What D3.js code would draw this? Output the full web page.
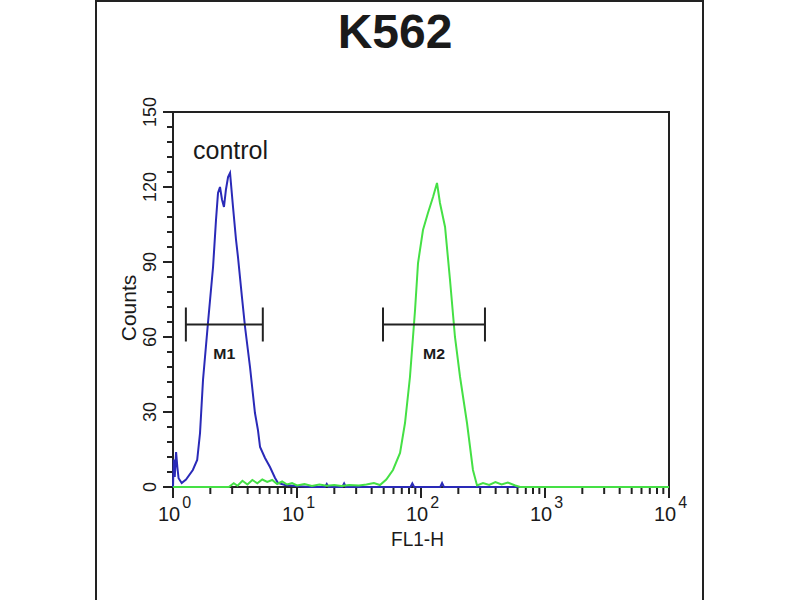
<!DOCTYPE html>
<html>
<head>
<meta charset="utf-8">
<script src="https://cdn.jsdelivr.net/npm/d3@7"></script>
<style>
  body { margin: 0; background: #fff; }
  text { font-family: "Liberation Sans", Arial, sans-serif; fill: #1a1a1a; }
</style>
</head>
<body>
<svg width="800" height="600"></svg>
<script>
  // histogram data: [log10(FL1-H), counts]
  const controlCurve = [
    [0.000, 0], [0.006, 11], [0.014, 4], [0.025, 14], [0.035, 8], [0.045, 3.5], [0.070, 1.6],
    [0.105, 3], [0.160, 6.8], [0.195, 10.8], [0.218, 21.6], [0.242, 42.8], [0.282, 65.6],
    [0.323, 88], [0.347, 107], [0.363, 117.6], [0.379, 120], [0.395, 115], [0.411, 112],
    [0.427, 119], [0.444, 124], [0.460, 125.6], [0.484, 112], [0.508, 99], [0.524, 92],
    [0.556, 76], [0.581, 64], [0.621, 48], [0.661, 29.6], [0.685, 22.8], [0.702, 16],
    [0.742, 11.6], [0.782, 8], [0.823, 3.6], [0.847, 1.6], [0.903, 0.8], [0.984, 0.4],
    [1.105, 0], [1.225, 0], [1.240, 1.2], [1.255, 0], [1.365, 0], [1.380, 1.4], [1.395, 0],
    [1.915, 0], [1.930, 1.4], [1.945, 0], [2.155, 0], [2.170, 1.6], [2.185, 0], [4.0, 0]
  ];
  const sampleCurve = [
    [0, 0], [0.45, 0], [0.49, 1.5], [0.52, 0.5], [0.56, 2.5], [0.60, 1], [0.64, 2.8],
    [0.68, 1.5], [0.72, 3], [0.76, 2], [0.80, 2.8], [0.84, 1.2], [0.88, 2.2], [0.92, 1],
    [0.96, 1.6], [1.00, 0.6], [1.06, 1.2], [1.12, 0.4], [1.18, 1.0], [1.24, 0.5], [1.30, 0.8],
    [1.36, 0.4], [1.42, 0.8], [1.50, 0.6], [1.56, 1.0], [1.62, 1.6], [1.669, 0.8], [1.72, 3],
    [1.774, 6.8], [1.831, 13.6], [1.871, 25.6], [1.911, 44], [1.952, 70.8], [1.976, 89.6],
    [2.016, 102.8], [2.056, 109.6], [2.097, 116], [2.129, 121.6], [2.153, 113.6], [2.194, 104],
    [2.234, 82.8], [2.274, 60], [2.315, 44], [2.371, 25.6], [2.419, 6.8], [2.452, 0.6],
    [2.50, 1.6], [2.55, 0.8], [2.60, 2], [2.65, 1], [2.70, 1.8], [2.76, 0.6], [2.80, 0], [4, 0]
  ];
  const gates = [
    {name: "M1", lo: 1.27, hi: 5.3, level: 65},
    {name: "M2", lo: 49.4, hi: 328, level: 65}
  ];
  const yTicks = [0, 30, 60, 90, 120, 150];
  const xDecades = [0, 1, 2, 3, 4];

  const svg = d3.select("svg");
  const margin = {top: 112, right: 131, bottom: 113, left: 173};
  const width = 800, height = 600;

  const x = d3.scaleLog().domain([1, 10000]).range([margin.left, width - margin.right]);
  const y = d3.scaleLinear().domain([0, 150]).range([height - margin.bottom, margin.top]);

  // outer frame
  svg.append("rect")
    .attr("x", 96).attr("y", 1).attr("width", 607).attr("height", 620)
    .attr("fill", "none").attr("stroke", "#222").attr("stroke-width", 2);

  svg.append("text")
    .attr("x", 395).attr("y", 48)
    .attr("text-anchor", "middle")
    .style("font-size", "48px").style("font-weight", "bold")
    .text("K562");

  // plot frame
  svg.append("rect")
    .attr("x", margin.left).attr("y", margin.top)
    .attr("width", width - margin.right - margin.left)
    .attr("height", height - margin.bottom - margin.top)
    .attr("fill", "none").attr("stroke", "#222").attr("stroke-width", 2);

  // y axis ticks (major + minor every 6)
  const yMinor = d3.range(0, 151, 6);
  svg.append("g").selectAll("line")
    .data(yMinor).enter().append("line")
    .attr("x1", margin.left - 6).attr("x2", margin.left)
    .attr("y1", d => y(d)).attr("y2", d => y(d))
    .attr("stroke", "#222").attr("stroke-width", 2);
  svg.append("g").selectAll("line")
    .data(yTicks).enter().append("line")
    .attr("x1", margin.left - 10).attr("x2", margin.left)
    .attr("y1", d => y(d)).attr("y2", d => y(d))
    .attr("stroke", "#222").attr("stroke-width", 2);
  svg.append("g").selectAll("text")
    .data(yTicks).enter().append("text")
    .attr("transform", d => `translate(156,${y(d)}) rotate(-90)`)
    .attr("text-anchor", "middle")
    .style("font-size", "18px")
    .text(d => d);

  svg.append("text")
    .attr("transform", `translate(136,308) rotate(-90)`)
    .attr("text-anchor", "middle")
    .style("font-size", "21px")
    .text("Counts");

  // x axis ticks (log)
  const xMinor = [];
  xDecades.slice(0, -1).forEach(e => d3.range(2, 10).forEach(m => xMinor.push(m * Math.pow(10, e))));
  svg.append("g").selectAll("line")
    .data(xMinor).enter().append("line")
    .attr("x1", d => x(d)).attr("x2", d => x(d))
    .attr("y1", y(0)).attr("y2", y(0) + 7)
    .attr("stroke", "#222").attr("stroke-width", 2);
  svg.append("g").selectAll("line")
    .data(xDecades).enter().append("line")
    .attr("x1", d => x(Math.pow(10, d))).attr("x2", d => x(Math.pow(10, d)))
    .attr("y1", y(0)).attr("y2", y(0) + 11)
    .attr("stroke", "#222").attr("stroke-width", 2);
  const xl = svg.append("g").selectAll("text")
    .data(xDecades).enter().append("text")
    .attr("x", d => x(Math.pow(10, d)) - 15).attr("y", 521)
    .style("font-size", "20px");
  xl.append("tspan")
    .text("10");
  xl.append("tspan")
    .attr("dx", 2).attr("dy", -13)
    .style("font-size", "16px")
    .text(d => d);

  svg.append("text")
    .attr("x", 391).attr("y", 546)
    .attr("textLength", 53).attr("lengthAdjust", "spacingAndGlyphs")
    .style("font-size", "20px")
    .text("FL1-H");

  // histograms
  const line = d3.line()
    .x(d => x(Math.pow(10, d[0])))
    .y(d => y(d[1]));

  svg.append("path")
    .datum(controlCurve)
    .attr("d", line)
    .attr("fill", "none")
    .attr("stroke", "#2a2ab8")
    .attr("stroke-width", 2);

  svg.append("path")
    .datum(sampleCurve)
    .attr("d", line)
    .attr("fill", "none")
    .attr("stroke", "#45e045")
    .attr("stroke-width", 2);

  svg.append("text")
    .attr("x", 193).attr("y", 159)
    .style("font-size", "25px")
    .text("control");

  // marker gates
  const g = svg.append("g").selectAll("g")
    .data(gates).enter().append("g");
  g.append("line")
    .attr("x1", d => x(d.lo)).attr("x2", d => x(d.hi))
    .attr("y1", d => y(d.level)).attr("y2", d => y(d.level))
    .attr("stroke", "#222").attr("stroke-width", 2);
  g.append("line")
    .attr("x1", d => x(d.lo)).attr("x2", d => x(d.lo))
    .attr("y1", d => y(d.level) - 17).attr("y2", d => y(d.level) + 17)
    .attr("stroke", "#222").attr("stroke-width", 2);
  g.append("line")
    .attr("x1", d => x(d.hi)).attr("x2", d => x(d.hi))
    .attr("y1", d => y(d.level) - 17).attr("y2", d => y(d.level) + 17)
    .attr("stroke", "#222").attr("stroke-width", 2);
  g.append("text")
    .attr("x", d => (x(d.lo) + x(d.hi)) / 2 - 11)
    .attr("y", d => y(d.level) + 34)
    .attr("textLength", 22).attr("lengthAdjust", "spacingAndGlyphs")
    .style("font-size", "15px").style("font-weight", "bold")
    .text(d => d.name);
</script>
</body>
</html>
